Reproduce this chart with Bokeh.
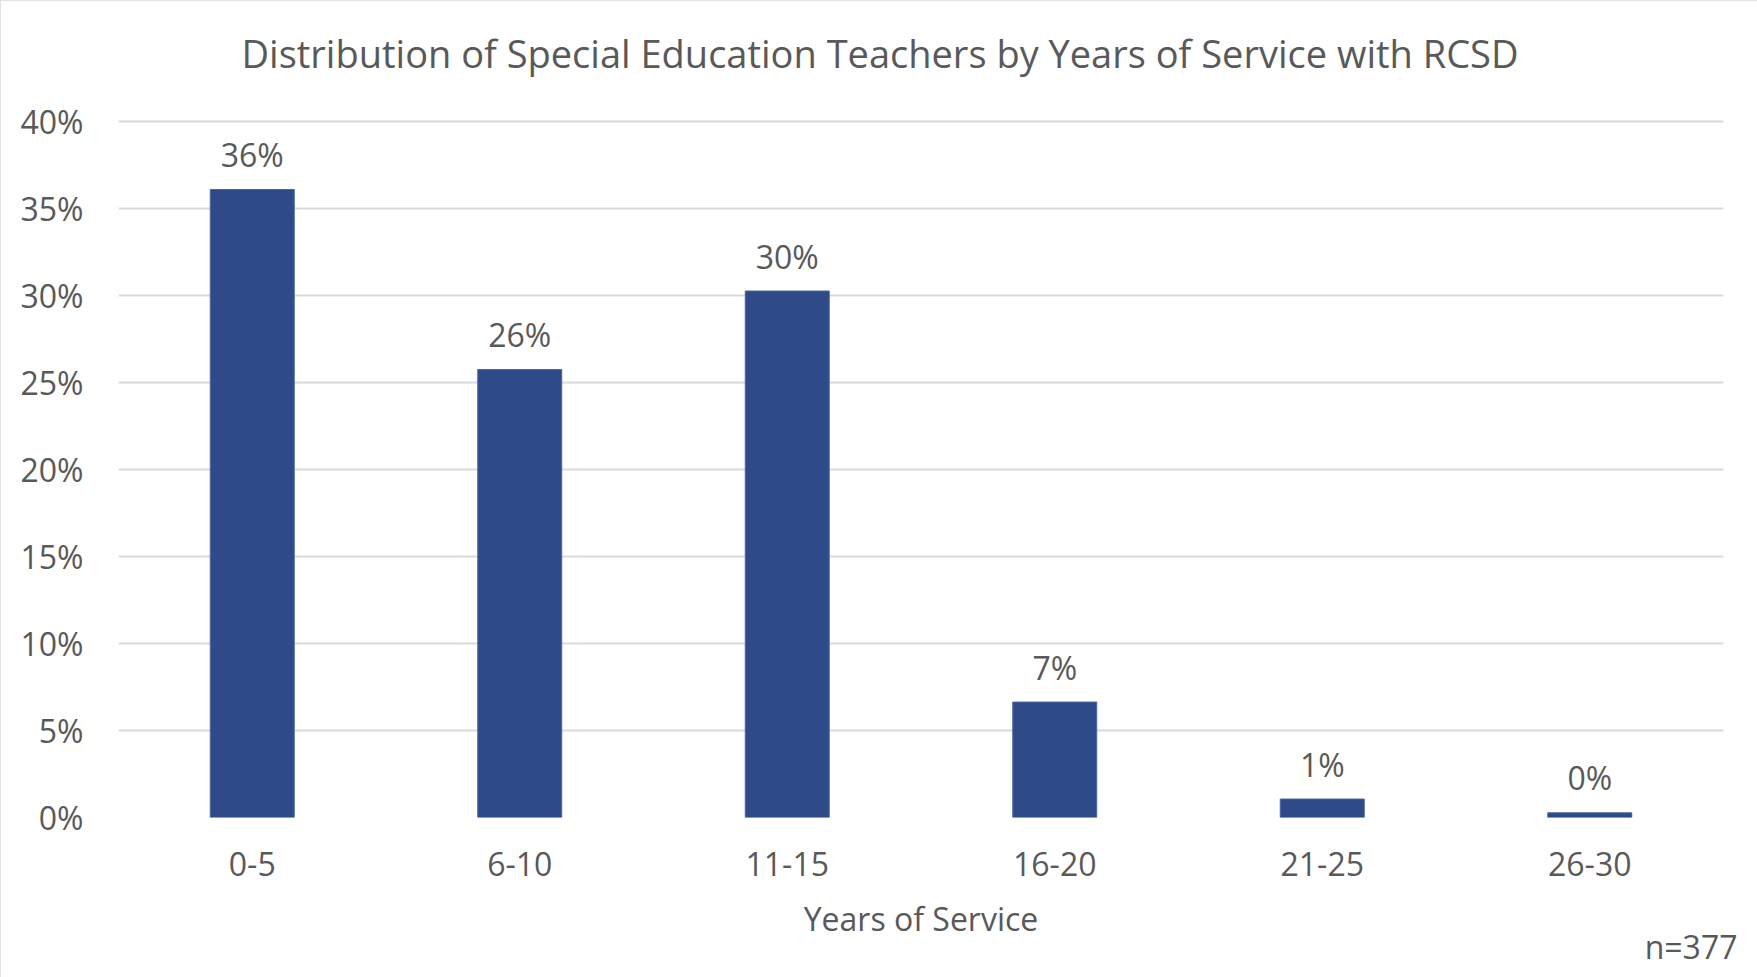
from bokeh.plotting import figure
from bokeh.models import ColumnDataSource, FixedTicker, NumeralTickFormatter, Title
from bokeh.core.properties import value
from bokeh.embed import file_html
from bokeh.resources import INLINE

categories = ["0-5", "6-10", "11-15", "16-20", "21-25", "26-30"]
shares = [0.3607, 0.2573, 0.3024, 0.0663, 0.0106, 0.0027]
value_labels = ["36%", "26%", "30%", "7%", "1%", "0%"]
y_ticks = [0.0, 0.05, 0.10, 0.15, 0.20, 0.25, 0.30, 0.35, 0.40]
title_text = "Distribution of Special Education Teachers by Years of Service with RCSD"
x_title = "Years of Service"
note_text = "n=377"

FONT = "Open Sans"
TEXT_COLOR = "#595959"
BAR_COLOR = "#2F4A89"
GRID_COLOR = "#D9D9D9"

source = ColumnDataSource(data=dict(cat=categories, val=shares, lbl=value_labels))

p = figure(
    x_range=categories, y_range=(0, 0.4015),
    width=1757, height=977,
    output_backend="svg", toolbar_location=None,
    min_border_left=118, min_border_right=34,
    min_border_top=118, min_border_bottom=160,
    title=None,
)
p.x_range.range_padding = 0
p.outline_line_color = None
p.background_fill_color = "white"
p.border_fill_color = "white"
p.styles = {"outline": "2px solid #D9D9D9", "outline-offset": "-2px"}

p.vbar(x="cat", top="val", width=0.314, source=source,
       fill_color=BAR_COLOR, line_color="#4A64A0", line_width=1)

p.text(x="cat", y="val", text="lbl", source=source,
       text_align="center", text_baseline="middle", y_offset=-35,
       text_font=value(FONT), text_font_size="32px", text_color=TEXT_COLOR)

# spacer between frame and title (closest to frame)
spacer = Title(text=" ", text_font_size="1px", standoff=13)
p.add_layout(spacer, "above")

# title
title = Title(text=title_text, align="left", offset=123,
              text_font=FONT, text_font_size="38px", text_font_style="normal",
              text_color=TEXT_COLOR, standoff=48)
p.add_layout(title, "above")

# footnote
note = Title(text=note_text, align="right", offset=-14,
             text_font=FONT, text_font_size="32px", text_font_style="normal",
             text_color=TEXT_COLOR, standoff=-40)
p.add_layout(note, "below")

# grid
p.xgrid.grid_line_color = None
p.ygrid.grid_line_color = GRID_COLOR
p.ygrid.grid_line_width = 2

# y axis
p.yaxis.ticker = FixedTicker(ticks=y_ticks)
p.yaxis.formatter = NumeralTickFormatter(format="0%")
p.yaxis.axis_line_color = None
p.yaxis.major_tick_line_color = None
p.yaxis.minor_tick_line_color = None
p.yaxis.major_label_standoff = 29
p.yaxis.major_label_text_font = FONT
p.yaxis.major_label_text_font_size = "32px"
p.yaxis.major_label_text_color = TEXT_COLOR

# x axis
p.xaxis.axis_line_color = None
p.xaxis.major_tick_line_color = None
p.xaxis.major_label_standoff = 28
p.xaxis.major_label_text_font = FONT
p.xaxis.major_label_text_font_size = "32px"
p.xaxis.major_label_text_color = TEXT_COLOR
p.xaxis.axis_label = x_title
p.xaxis.axis_label_text_font = FONT
p.xaxis.axis_label_text_font_size = "32px"
p.xaxis.axis_label_text_font_style = "normal"
p.xaxis.axis_label_text_color = TEXT_COLOR
p.xaxis.axis_label_standoff = 18

open("out.html", "w").write(file_html(p, INLINE))
